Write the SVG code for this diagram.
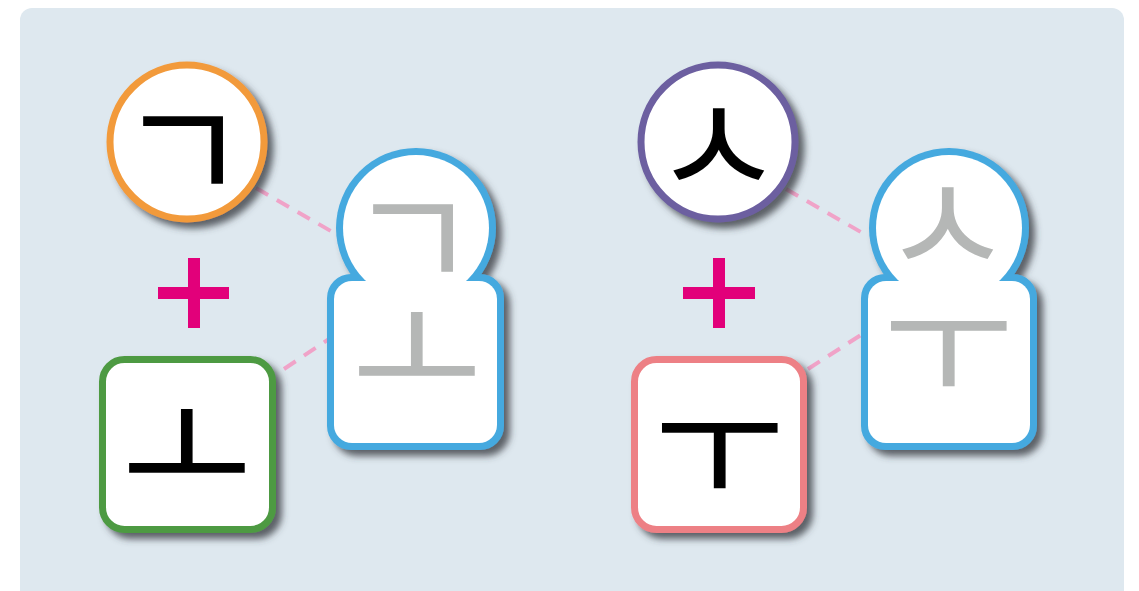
<svg xmlns="http://www.w3.org/2000/svg" width="1139" height="591" viewBox="0 0 1139 591">
  <style>
    .jamo { font-family: "Noto Sans CJK KR", "Noto Sans CJK SC", sans-serif; font-size: 142px; text-anchor: middle; dominant-baseline: central; }
    .ink { fill: #000000; }
    .ghost { fill: #b5b7b6; }
    .plus { fill: #e2007a; }
    .dash { stroke: #f0a3c8; stroke-width: 4; stroke-dasharray: 14 10; fill: none; }
  </style>
  <defs>
    <filter id="shadow" x="-20%" y="-20%" width="150%" height="150%">
      <feDropShadow dx="6" dy="6" stdDeviation="3.5" flood-color="#3a3f45" flood-opacity="0.8"/>
    </filter>
  </defs>
  <rect x="20" y="8" width="1104" height="620" rx="12" fill="#dee8ef"/>

  <g id="connectors">
    <line class="dash" x1="256" y1="188" x2="336" y2="234"/>
    <line class="dash" x1="284" y1="369" x2="332" y2="337"/>
    <line class="dash" x1="786" y1="189" x2="866" y2="235"/>
    <line class="dash" x1="808" y1="369" x2="864" y2="333"/>
  </g>

  <g id="node-giyeok">
    <circle cx="187" cy="142" r="77" fill="#ffffff" stroke="#f29a3b" stroke-width="7" filter="url(#shadow)"/>
    <text class="jamo ink" x="183" y="141">ㄱ</text>
  </g>
  <g id="plus-left">
    <rect x="158" y="287" width="71" height="12" class="plus"/>
    <rect x="188" y="258" width="12" height="70" class="plus"/>
  </g>
  <g id="node-o">
    <rect x="102.5" y="359.5" width="170" height="170" rx="22" fill="#ffffff" stroke="#4e9a43" stroke-width="7" filter="url(#shadow)"/>
    <text class="jamo ink" x="187" y="438">ㅗ</text>
  </g>
  <g id="node-go">
    <g filter="url(#shadow)">
      <circle cx="416" cy="228" r="80" fill="#45a9df"/>
      <rect x="327" y="274" width="177" height="176" rx="24" fill="#45a9df"/>
      <circle cx="416" cy="228" r="73" fill="#ffffff"/>
      <rect x="334" y="281" width="163" height="162" rx="18" fill="#ffffff"/>
    </g>
    <text class="jamo ghost"><tspan x="413" y="229">ㄱ</tspan><tspan x="417" y="341">ㅗ</tspan></text>
  </g>

  <g id="node-siot">
    <circle cx="718" cy="142" r="77" fill="#ffffff" stroke="#6c5fa0" stroke-width="7" filter="url(#shadow)"/>
    <text class="jamo ink" x="718" y="136">ㅅ</text>
  </g>
  <g id="plus-right">
    <rect x="683" y="287" width="72" height="12" class="plus"/>
    <rect x="713" y="258" width="12" height="70" class="plus"/>
  </g>
  <g id="node-u">
    <rect x="634.5" y="359.5" width="169" height="170" rx="22" fill="#ffffff" stroke="#ed8085" stroke-width="7" filter="url(#shadow)"/>
    <text class="jamo ink" x="719" y="435">ㅜ</text>
  </g>
  <g id="node-su">
    <g filter="url(#shadow)">
      <circle cx="949" cy="228" r="80" fill="#45a9df"/>
      <rect x="861" y="274" width="176" height="176" rx="24" fill="#45a9df"/>
      <circle cx="949" cy="228" r="73" fill="#ffffff"/>
      <rect x="868" y="281" width="162" height="162" rx="18" fill="#ffffff"/>
    </g>
    <text class="jamo ghost"><tspan x="947" y="215">ㅅ</tspan><tspan x="948" y="333">ㅜ</tspan></text>
  </g>
</svg>
